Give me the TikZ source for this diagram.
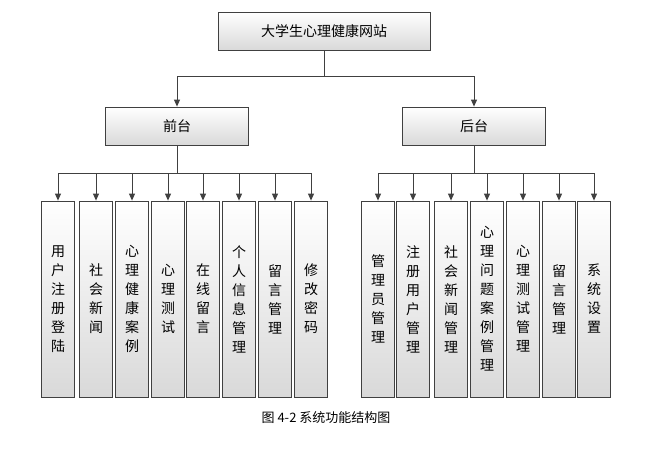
\documentclass[tikz,border=0pt]{standalone}
\usepackage{fontspec}
\setmainfont{Noto Sans CJK SC}
\usetikzlibrary{arrows.meta}
\begin{document}
\begin{tikzpicture}[x=1pt,y=-1pt,
 box/.style={draw=black!75,line width=0.8pt,top color=white,bottom color=black!15,inner sep=0pt,font=\fontsize{14}{16}\selectfont},
 vbox/.style={box,font=\fontsize{14}{19}\selectfont,align=center},
 arr/.style={draw=black!75,line width=0.9pt,-{Triangle[length=7pt,width=6pt]}},
 ln/.style={draw=black!75,line width=0.9pt}]
\useasboundingbox (0,0) rectangle (653,463);
\node[box,minimum width=212pt,minimum height=38pt] (top) at (324,31) {大学生心理健康网站};
\node[box,minimum width=143pt,minimum height=38pt] (fr) at (177,126) {前台};
\node[box,minimum width=143pt,minimum height=38pt] (bk) at (474,126) {后台};
\coordinate (j0) at (324,76);
\draw[ln] (top.south) -- (j0);
\draw[ln] (177,76) -- (475,76);
\draw[arr] (177,76) -- (fr.north);
\draw[arr] (474,76) -- (bk.north);
% front children
\foreach \i/\x/\t in {1/58/{用\\户\\注\\册\\登\\陆},2/96/{社\\会\\新\\闻},3/132/{心\\理\\健\\康\\案\\例},4/168/{心\\理\\测\\试},5/203/{在\\线\\留\\言},6/239/{个\\人\\信\\息\\管\\理},7/275/{留\\言\\管\\理},8/311/{修\\改\\密\\码}}{
  \node[vbox,minimum width=33pt,minimum height=196pt] (f\i) at (\x,299) {\t};
  \draw[arr] (\x,173) -- (f\i.north);
}
\draw[ln] (fr.south) -- (177,173);
\draw[ln] (58,173) -- (311,173);
% back children
\foreach \i/\x/\t in {1/378/{管\\理\\员\\管\\理},2/413/{注\\册\\用\\户\\管\\理},3/451/{社\\会\\新\\闻\\管\\理},4/487/{心\\理\\问\\题\\案\\例\\管\\理},5/523/{心\\理\\测\\试\\管\\理},6/559/{留\\言\\管\\理},7/594/{系\\统\\设\\置}}{
  \node[vbox,minimum width=33pt,minimum height=196pt] (b\i) at (\x,299) {\t};
  \draw[arr] (\x,173) -- (b\i.north);
}
\draw[ln] (bk.south) -- (474,173);
\draw[ln] (378,173) -- (594,173);
\node[font=\fontsize{13}{15}\selectfont] (cap) at (326,418) {图 4-2 系统功能结构图};
\end{tikzpicture}
\end{document}
